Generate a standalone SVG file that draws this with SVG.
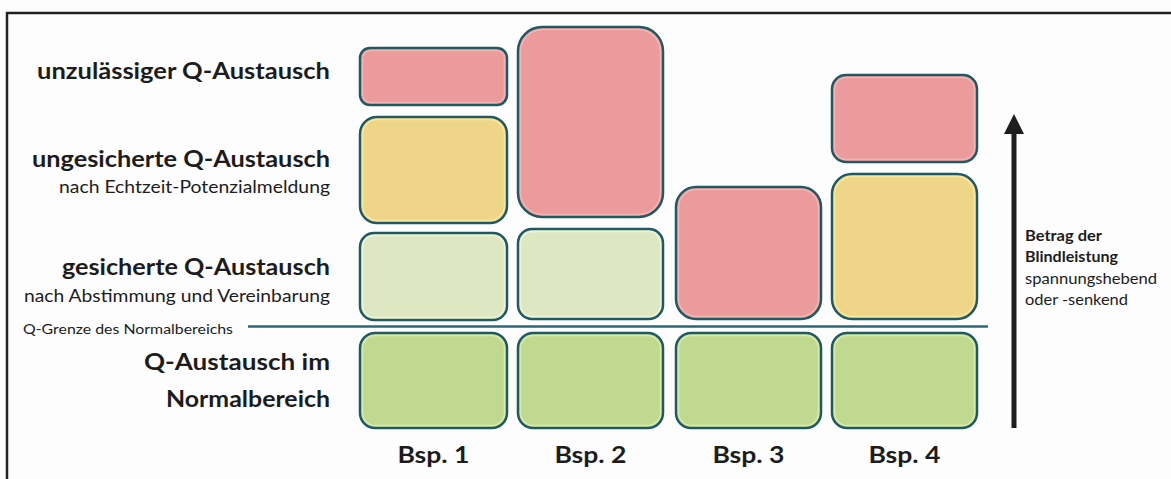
<svg xmlns="http://www.w3.org/2000/svg" width="1171" height="479" viewBox="0 0 1171 479">
<style>
.box{stroke:#1f5965;stroke-width:2.5}
.red{fill:#eb9b9b}
.yel{fill:#efd588}
.lgr{fill:#dde8c3}
.grn{fill:#bfd98f}
.hiR{fill:none;stroke:#f3b4b1;stroke-width:1.5}
.hiY{fill:none;stroke:#f7e79a;stroke-width:1.5}
.hiL{fill:none;stroke:#eef3d8;stroke-width:1.5}
.hiG{fill:none;stroke:#d8eaa6;stroke-width:1.5}
.h{font-family:Lato,"Liberation Sans",sans-serif;font-weight:bold;font-size:22px;fill:#1c1c1c}
.s{font-family:Lato,"Liberation Sans",sans-serif;font-size:17px;fill:#1c1c1c}
.r{text-anchor:end}
.ax{font-family:Lato,"Liberation Sans",sans-serif;font-size:15px;fill:#1c1c1c}
</style>
<rect width="1171" height="479" fill="#fdfdfd"/>
<g id="frame" stroke="#222" stroke-width="2.5">
<line x1="6" y1="13" x2="1171" y2="13"/>
<line x1="7" y1="12" x2="7" y2="479"/>
</g>
<g id="labels">
<text class="h" x="37" y="79" textLength="293" lengthAdjust="spacingAndGlyphs">unzulässiger Q-Austausch</text>
<text class="h" x="32" y="167" textLength="298" lengthAdjust="spacingAndGlyphs">ungesicherte Q-Austausch</text>
<text class="s" x="59" y="193" textLength="271" lengthAdjust="spacingAndGlyphs">nach Echtzeit-Potenzialmeldung</text>
<text class="h" x="62" y="275" textLength="268" lengthAdjust="spacingAndGlyphs">gesicherte Q-Austausch</text>
<text class="s" x="24" y="302" textLength="306" lengthAdjust="spacingAndGlyphs">nach Abstimmung und Vereinbarung</text>
<text class="s" x="23" y="334" style="font-size:12.5px" textLength="210" lengthAdjust="spacingAndGlyphs">Q-Grenze des Normalbereichs</text>
<text class="h" x="144" y="370" textLength="186" lengthAdjust="spacingAndGlyphs">Q-Austausch  im</text>
<text class="h" x="166" y="407" textLength="164" lengthAdjust="spacingAndGlyphs">Normalbereich</text>
</g>
<g id="connectors">
<line id="normal-line" x1="248" y1="326.5" x2="988" y2="326.5" stroke="#2c6775" stroke-width="2.5"/>
<g id="axis-arrow" fill="#1e1e1e">
<rect x="1011.5" y="130" width="5" height="298"/>
<polygon points="1014,114 1004,134 1024,134"/>
</g>
</g>
<g id="bsp1">
<rect class="box red" x="360" y="48" width="147" height="57" rx="10"/>
<rect class="hiR" x="362.5" y="50.5" width="142" height="52" rx="8"/>
<rect class="box yel" x="360" y="117" width="147" height="106" rx="17"/>
<rect class="hiY" x="362.5" y="119.5" width="142" height="101" rx="15"/>
<rect class="box lgr" x="360" y="233" width="147" height="87" rx="14"/>
<rect class="hiL" x="362.5" y="235.5" width="142" height="82" rx="12"/>
<rect class="box grn" x="360" y="333" width="147" height="95" rx="15"/>
<rect class="hiG" x="362.5" y="335.5" width="142" height="90" rx="13"/>
<text class="h" x="433.5" y="463" text-anchor="middle" textLength="72" lengthAdjust="spacingAndGlyphs">Bsp. 1</text>
</g>
<g id="bsp2">
<rect class="box red" x="518" y="27" width="145" height="190" rx="24"/>
<rect class="hiR" x="520.5" y="29.5" width="140" height="185" rx="22"/>
<rect class="box lgr" x="518" y="229" width="145" height="90" rx="14"/>
<rect class="hiL" x="520.5" y="231.5" width="140" height="85" rx="12"/>
<rect class="box grn" x="518" y="333" width="145" height="95" rx="15"/>
<rect class="hiG" x="520.5" y="335.5" width="140" height="90" rx="13"/>
<text class="h" x="590.5" y="463" text-anchor="middle" textLength="72" lengthAdjust="spacingAndGlyphs">Bsp. 2</text>
</g>
<g id="bsp3">
<rect class="box red" x="676" y="187" width="145" height="132" rx="20"/>
<rect class="hiR" x="678.5" y="189.5" width="140" height="127" rx="18"/>
<rect class="box grn" x="676" y="333" width="145" height="95" rx="15"/>
<rect class="hiG" x="678.5" y="335.5" width="140" height="90" rx="13"/>
<text class="h" x="748.5" y="463" text-anchor="middle" textLength="72" lengthAdjust="spacingAndGlyphs">Bsp. 3</text>
</g>
<g id="bsp4">
<rect class="box red" x="832" y="75" width="145" height="87" rx="14"/>
<rect class="hiR" x="834.5" y="77.5" width="140" height="82" rx="12"/>
<rect class="box yel" x="832" y="174" width="145" height="145" rx="20"/>
<rect class="hiY" x="834.5" y="176.5" width="140" height="140" rx="18"/>
<rect class="box grn" x="832" y="333" width="145" height="95" rx="15"/>
<rect class="hiG" x="834.5" y="335.5" width="140" height="90" rx="13"/>
<text class="h" x="904.5" y="463" text-anchor="middle" textLength="72" lengthAdjust="spacingAndGlyphs">Bsp. 4</text>
</g>
<g id="axis-label">
<text class="ax" x="1025" y="241" font-weight="bold" textLength="77" lengthAdjust="spacingAndGlyphs">Betrag der</text>
<text class="ax" x="1025" y="262" font-weight="bold" textLength="93" lengthAdjust="spacingAndGlyphs">Blindleistung</text>
<text class="ax" x="1025" y="284" textLength="132" lengthAdjust="spacingAndGlyphs">spannungshebend</text>
<text class="ax" x="1025" y="305" textLength="103" lengthAdjust="spacingAndGlyphs">oder -senkend</text>
</g>
</svg>
